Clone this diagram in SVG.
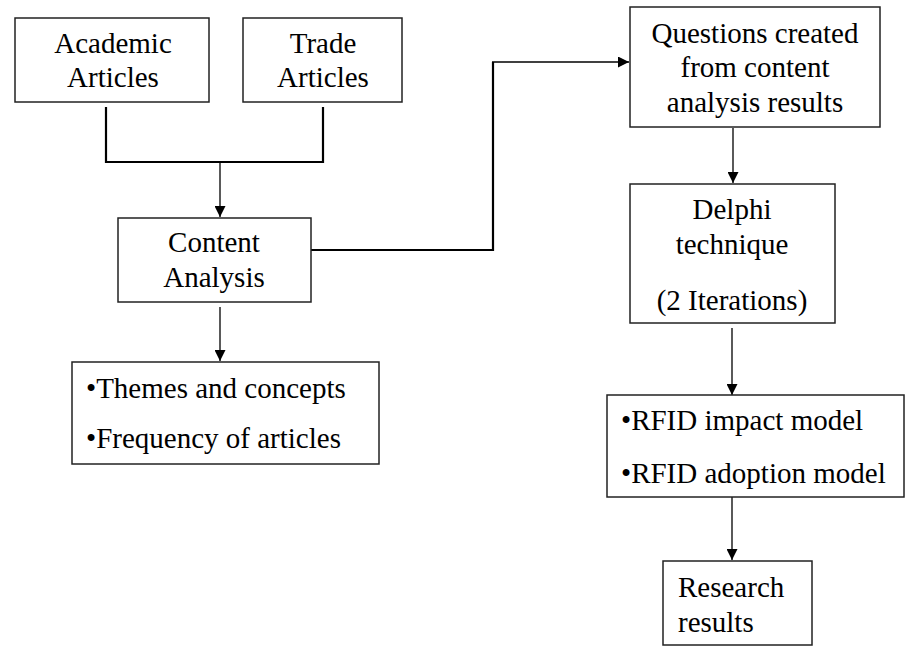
<svg xmlns="http://www.w3.org/2000/svg" width="906" height="646" viewBox="0 0 906 646">
  <style>
    .box { fill: #ffffff; stroke: #222222; stroke-width: 1.5; }
    text { font-family: 'Liberation Serif', 'Times New Roman', Times, 'DejaVu Serif', serif; font-size: 29px; fill: #000000; }
    .c { text-anchor: middle; }
    .wire { fill: none; stroke: #000000; stroke-width: 2.2; }
    .arr { fill: none; stroke: #000000; stroke-width: 1.3; marker-end: url(#head); }
  </style>
  <defs>
    <marker id="head" viewBox="0 0 10 10" refX="10" refY="5" markerWidth="11" markerHeight="11" markerUnits="userSpaceOnUse" orient="auto">
      <path d="M0,0 L10,5 L0,10 Z" fill="#000000"/>
    </marker>
  </defs>
  <rect width="906" height="646" fill="#ffffff"/>

  <g id="connectors">
    <!-- merge of the two source boxes -->
    <path class="wire" d="M106,107 V162 H323 V107"/>
    <path class="arr" d="M220,162 V217"/>
    <!-- content analysis to questions -->
    <path class="wire" d="M311,250 H493 V62"/>
    <path class="arr" d="M492,62 H629"/>
    <path class="arr" d="M220,307 V361"/>
    <path class="arr" d="M733,128 V183"/>
    <path class="arr" d="M732,328 V395"/>
    <path class="arr" d="M732,497 V560"/>
  </g>

  <g id="academic">
    <rect class="box" x="15" y="18" width="194" height="84"/>
    <text class="c" x="113" y="53">Academic</text>
    <text class="c" x="113" y="87">Articles</text>
  </g>

  <g id="trade">
    <rect class="box" x="243" y="18" width="159" height="84"/>
    <text class="c" x="323" y="53">Trade</text>
    <text class="c" x="323" y="87">Articles</text>
  </g>

  <g id="content-analysis">
    <rect class="box" x="118" y="218" width="193" height="84"/>
    <text class="c" x="214" y="252">Content</text>
    <text class="c" x="214" y="287">Analysis</text>
  </g>

  <g id="themes">
    <rect class="box" x="72" y="362" width="307" height="102"/>
    <text x="86" y="398">•Themes and concepts</text>
    <text x="86" y="448">•Frequency of articles</text>
  </g>

  <g id="questions">
    <rect class="box" x="630" y="7" width="250" height="120"/>
    <text class="c" x="755" y="43">Questions created</text>
    <text class="c" x="755" y="77">from content</text>
    <text class="c" x="755" y="112">analysis results</text>
  </g>

  <g id="delphi">
    <rect class="box" x="630" y="184" width="205" height="139"/>
    <text class="c" x="732" y="219">Delphi</text>
    <text class="c" x="732" y="254">technique</text>
    <text class="c" x="732" y="310">(2 Iterations)</text>
  </g>

  <g id="rfid-models">
    <rect class="box" x="607" y="395" width="297" height="102"/>
    <text x="621" y="430">•RFID impact model</text>
    <text x="621" y="483">•RFID adoption model</text>
  </g>

  <g id="research-results">
    <rect class="box" x="663" y="561" width="149" height="84"/>
    <text x="678" y="597">Research</text>
    <text x="678" y="632">results</text>
  </g>
</svg>
